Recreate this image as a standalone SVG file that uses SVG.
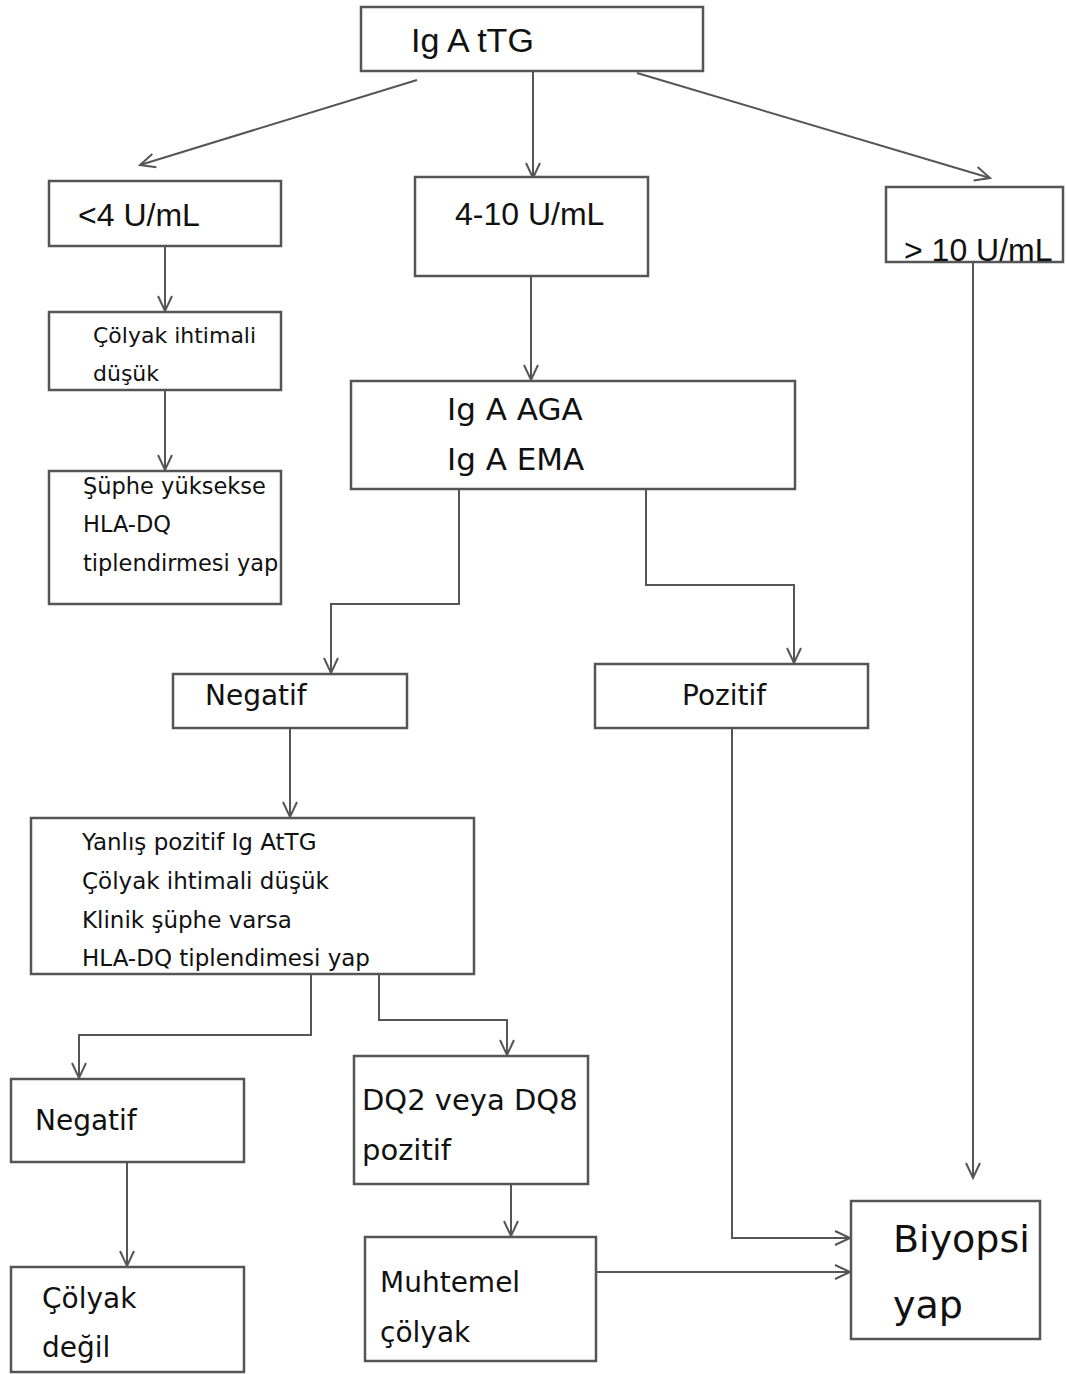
<svg xmlns="http://www.w3.org/2000/svg" width="1067" height="1374" viewBox="0 0 1067 1374">
<defs>
<marker id="ah" markerUnits="userSpaceOnUse" markerWidth="20" markerHeight="20" refX="16" refY="8" orient="auto">
<path d="M1,1 L16,8 L1,15" fill="none" stroke="#555" stroke-width="2"/>
</marker>
<style>
.box{fill:#fff;stroke:#555;stroke-width:2.5}
.c{fill:none;stroke:#555;stroke-width:2;marker-end:url(#ah)}
.n{font-family:"Liberation Sans",Arial,sans-serif;fill:#111}
.d{font-family:"DejaVu Sans","Liberation Sans",sans-serif;fill:#111}
</style>
</defs>
<rect width="1067" height="1374" fill="#fff"/>
<g id="connectors">
<path class="c" d="M417,80 L140,165"/>
<path class="c" d="M533,71 L533,178"/>
<path class="c" d="M637,73 L990,178"/>
<path class="c" d="M165,246 L165,311"/>
<path class="c" d="M165,390 L165,470"/>
<path class="c" d="M531,276 L531,380"/>
<path class="c" d="M459,489 L459,604 L331,604 L331,673"/>
<path class="c" d="M646,489 L646,585 L794,585 L794,663"/>
<path class="c" d="M290,728 L290,817"/>
<path class="c" d="M311,974 L311,1035 L79,1035 L79,1078"/>
<path class="c" d="M379,974 L379,1020 L507,1020 L507,1055"/>
<path class="c" d="M127,1162 L127,1266"/>
<path class="c" d="M511,1184 L511,1236"/>
<path class="c" d="M732,728 L732,1238 L850,1238"/>
<path class="c" d="M596,1272 L850,1272"/>
<path class="c" d="M973,262 L973,1178"/>
</g>
<g id="n_igattg"><rect class="box" x="361" y="7" width="342" height="64"/><text class="n" x="411" y="52" font-size="34">Ig A tTG</text></g>
<g id="n_lt4"><rect class="box" x="49" y="181" width="232" height="65"/><text class="n" x="78" y="226" font-size="32">&lt;4 U/mL</text></g>
<g id="n_4to10"><rect class="box" x="415" y="177" width="233" height="99"/><text class="n" x="455" y="225" font-size="32">4-10 U/mL</text></g>
<g id="n_gt10"><rect class="box" x="886" y="187" width="177" height="75"/><text class="n" x="904" y="261" font-size="32">&gt; 10 U/mL</text></g>
<g id="n_dusuk"><rect class="box" x="49" y="312" width="232" height="78"/><text class="d" font-size="22"><tspan x="93" y="343">Çölyak ihtimali</tspan><tspan x="93" y="381">düşük</tspan></text></g>
<g id="n_suphe"><rect class="box" x="49" y="471" width="232" height="133"/><text class="d" font-size="22.5"><tspan x="83" y="494">Şüphe yüksekse</tspan><tspan x="83" y="532">HLA-DQ</tspan><tspan x="83" y="571">tiplendirmesi yap</tspan></text></g>
<g id="n_aga"><rect class="box" x="351" y="381" width="444" height="108"/><text class="d" font-size="31"><tspan x="447" y="420">Ig A AGA</tspan><tspan x="447" y="470">Ig A EMA</tspan></text></g>
<g id="n_neg1"><rect class="box" x="173" y="674" width="234" height="54"/><text class="d" x="205" y="705" font-size="28">Negatif</text></g>
<g id="n_poz"><rect class="box" x="595" y="664" width="273" height="64"/><text class="d" x="682" y="705" font-size="28">Pozitif</text></g>
<g id="n_yanlis"><rect class="box" x="31" y="818" width="443" height="156"/><text class="d" font-size="23"><tspan x="82" y="850">Yanlış pozitif Ig AtTG</tspan><tspan x="82" y="889">Çölyak ihtimali düşük</tspan><tspan x="82" y="928">Klinik şüphe varsa</tspan><tspan x="82" y="966">HLA-DQ tiplendimesi yap</tspan></text></g>
<g id="n_neg2"><rect class="box" x="11" y="1079" width="233" height="83"/><text class="d" x="35" y="1130" font-size="28">Negatif</text></g>
<g id="n_dq"><rect class="box" x="354" y="1056" width="234" height="128"/><text class="d" font-size="29"><tspan x="362" y="1110">DQ2 veya DQ8</tspan><tspan x="362" y="1160">pozitif</tspan></text></g>
<g id="n_degil"><rect class="box" x="11" y="1267" width="233" height="105"/><text class="d" font-size="28"><tspan x="42" y="1308">Çölyak</tspan><tspan x="42" y="1357">değil</tspan></text></g>
<g id="n_muhtemel"><rect class="box" x="365" y="1237" width="231" height="124"/><text class="d" font-size="28"><tspan x="380" y="1292">Muhtemel</tspan><tspan x="380" y="1342">çölyak</tspan></text></g>
<g id="n_biyopsi"><rect class="box" x="851" y="1201" width="189" height="138"/><text class="d" font-size="38"><tspan x="893" y="1252">Biyopsi</tspan><tspan x="893" y="1318">yap</tspan></text></g>
</svg>
